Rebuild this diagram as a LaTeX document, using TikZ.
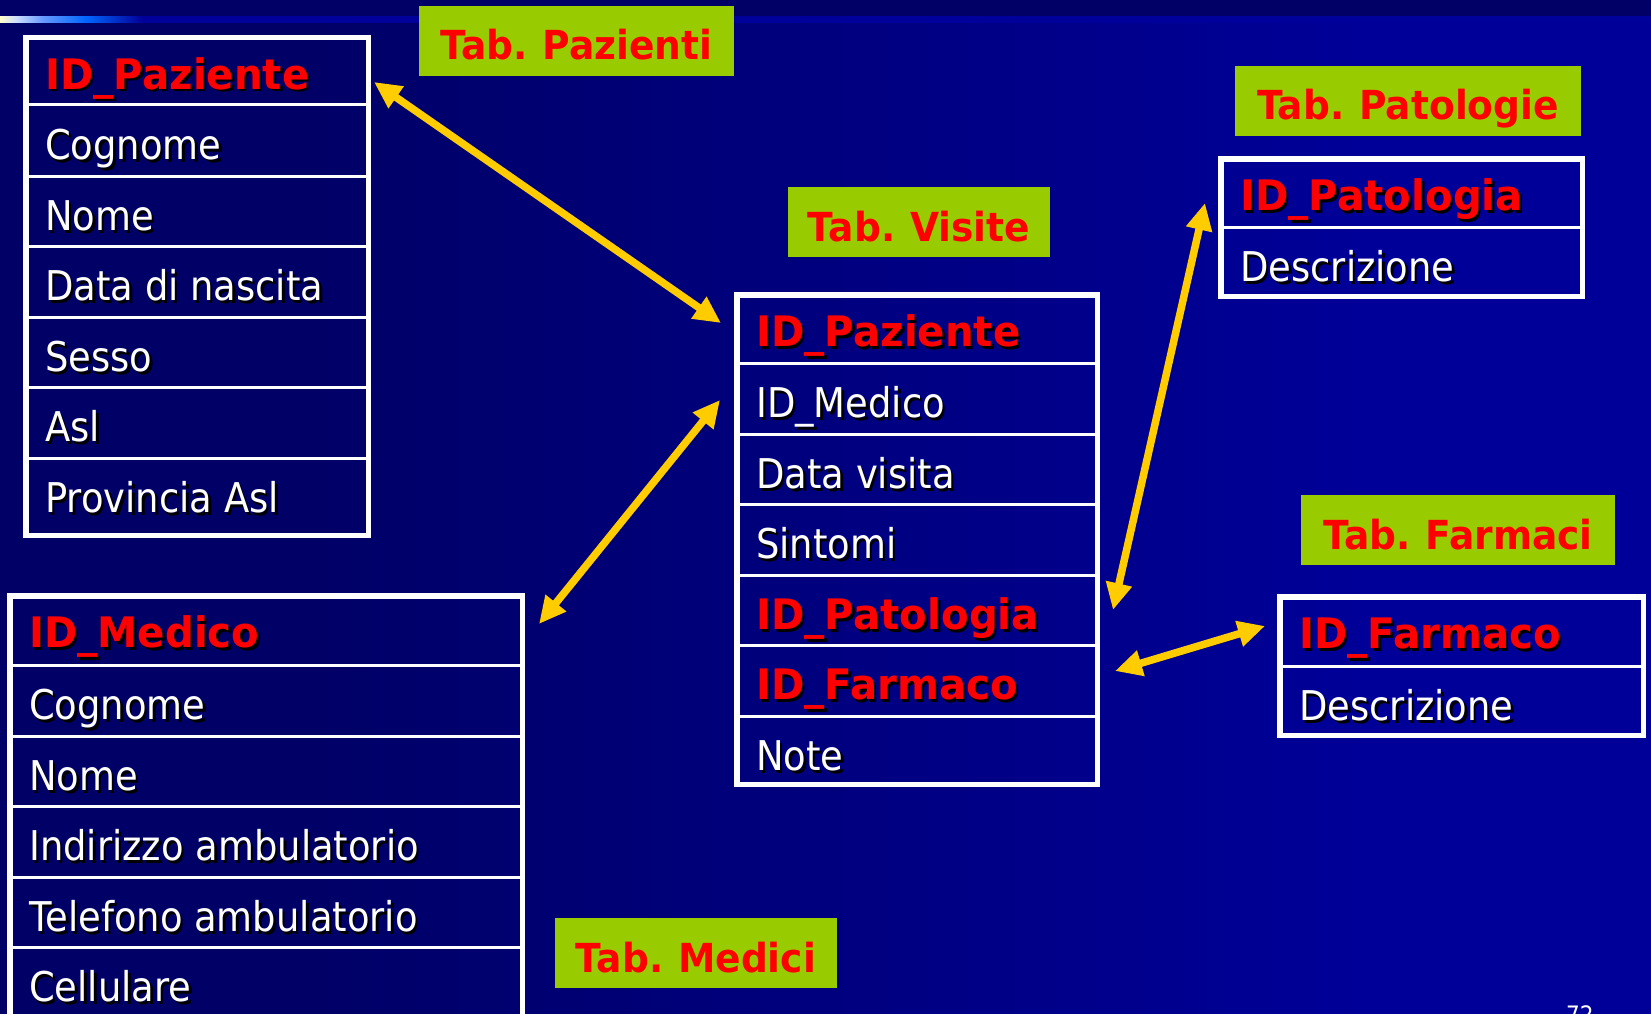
\documentclass[tikz,border=0pt]{standalone}
\usepackage{fontspec}
\newfontfamily\rfont[FakeStretch=0.90]{DejaVu Sans}
\newfontfamily\bfont[FakeStretch=0.96]{DejaVu Sans}
\newfontfamily\lfont[FakeStretch=0.94,WordSpace=0.8]{DejaVu Sans}
\usetikzlibrary{arrows.meta}
\definecolor{bgL}{HTML}{000066}
\definecolor{bgR}{HTML}{000099}
\definecolor{labgreen}{HTML}{99CC00}
\definecolor{gold}{HTML}{FFCC00}
\definecolor{keyred}{HTML}{FF0000}
\definecolor{stA}{HTML}{FFFFCC}
\definecolor{stB}{HTML}{CCDDFF}
\definecolor{stC}{HTML}{6699FF}
\definecolor{stD}{HTML}{0066FF}
\definecolor{stE}{HTML}{00009A}
\pgfdeclarehorizontalshading{bgshade}{100bp}{color(0bp)=(bgL); color(34bp)=(bgL); color(67bp)=(bgR); color(100bp)=(bgR)}
\pgfdeclarehorizontalshading{stripeshade}{100bp}{color(0bp)=(stA); color(25bp)=(stA); color(25.5bp)=(stB); color(26.3bp)=(stC); color(27.6bp)=(stD); color(29.3bp)=(stE); color(100bp)=(stE)}
\newcommand\fld[5]{%
  \node[field,#4,fshadow] (#1s) at (#2+2.5,#3+2.5) {#5};
  \node[field,#4] (#1) at (#2,#3) {#5};}
\begin{document}
\begin{tikzpicture}[x=1pt,y=-1pt,
  field/.style={anchor=base west, inner sep=0pt, text=white,
    font=\rfont\fontsize{41pt}{41pt}\selectfont},
  keyf/.style={text=keyred, font=\bfont\bfseries\fontsize{42pt}{42pt}\selectfont},
  fshadow/.style={text=black},
  tbl/.style={draw=white, line width=5.5pt, anchor=north west, inner sep=0pt, outer sep=0pt},
  sep/.style={draw=white, line width=3pt},
  lbl/.style={fill=labgreen, text=keyred, anchor=north west, inner sep=0pt, outer sep=0pt,
    text height=38pt, text depth=0pt, minimum height=70pt,
    font=\lfont\bfseries\fontsize{40pt}{40pt}\selectfont},
  conn/.style={draw=gold, line width=7.5pt,
    arrows={Triangle[length=27pt,width=25pt]-Triangle[length=27pt,width=25pt]}}
]
\useasboundingbox (0,0) rectangle (1651,1014);
\clip (0,0) rectangle (1651,1014);
% background
\fill[bgL] (0,0) rectangle (1651,1014);
\shade[shading=bgshade] (0,23) rectangle (1651,1014);
\shade[shading=stripeshade] (0,17) rectangle (1651,23);

% ---------- Tab. Pazienti ----------
\node[lbl, minimum width=315pt] (lpz) at (419,6) {Tab. Pazienti};
\foreach \yy in {105,176,246,317,387,458} \draw[sep] (25,\yy) -- (369,\yy);
\node[tbl, minimum width=342.5pt, minimum height=497.5pt] (pz) at (25.75,37.75) {};
\fld{pz1}{45}{89.5}{keyf}{ID\_Paziente}
\fld{pz2}{45}{159.5}{}{Cognome}
\fld{pz3}{45}{230.5}{}{Nome}
\fld{pz4}{45}{300.5}{}{Data di nascita}
\fld{pz5}{45}{371.5}{}{Sesso}
\fld{pz6}{45}{441.5}{}{Asl}
\fld{pz7}{45}{512.5}{}{Provincia Asl}

% ---------- Tab. Visite ----------
\node[lbl, minimum width=262pt] (lvs) at (788,187) {Tab. Visite};
\foreach \yy in {363,434,504,575,645,716} \draw[sep] (736,\yy) -- (1098,\yy);
\node[tbl, minimum width=360.5pt, minimum height=489.5pt] (vs) at (736.75,294.75) {};
\fld{vs1}{756}{346.5}{keyf}{ID\_Paziente}
\fld{vs2}{756}{417.5}{}{ID\_Medico}
\fld{vs3}{756}{488.5}{}{Data visita}
\fld{vs4}{756}{558.5}{}{Sintomi}
\fld{vs5}{756}{629.5}{keyf}{ID\_Patologia}
\fld{vs6}{756}{699.5}{keyf}{ID\_Farmaco}
\fld{vs7}{756}{770.5}{}{Note}

% ---------- Tab. Patologie ----------
\node[lbl, minimum width=346pt] (lpt) at (1235,66) {Tab. Patologie};
\draw[sep] (1220,227) -- (1583,227);
\node[tbl, minimum width=361.5pt, minimum height=137.5pt] (pt) at (1220.75,158.75) {};
\fld{pt1}{1240}{210.5}{keyf}{ID\_Patologia}
\fld{pt2}{1240}{281.5}{}{Descrizione}

% ---------- Tab. Farmaci ----------
\node[lbl, minimum width=314pt] (lfm) at (1301,495) {Tab. Farmaci};
\draw[sep] (1279,666) -- (1644,666);
\node[tbl, minimum width=363.5pt, minimum height=138.5pt] (fm) at (1279.75,596.75) {};
\fld{fm1}{1299}{648.5}{keyf}{ID\_Farmaco}
\fld{fm2}{1299}{720.5}{}{Descrizione}

% ---------- Tab. Medici ----------
\node[lbl, minimum width=282pt] (lmd) at (555,918) {Tab. Medici};
\foreach \yy in {665,736,806,877,947,1018} \draw[sep] (9,\yy) -- (523,\yy);
\node[tbl, minimum width=512.5pt, minimum height=500pt] (md) at (9.75,595.75) {};
\fld{md1}{29}{647.5}{keyf}{ID\_Medico}
\fld{md2}{29}{719.5}{}{Cognome}
\fld{md3}{29}{790.5}{}{Nome}
\fld{md4}{29}{860.5}{}{Indirizzo ambulatorio}
\fld{md5}{29}{931.5}{}{Telefono ambulatorio}
\fld{md6}{29}{1001.5}{}{Cellulare}

% ---------- connectors ----------
\coordinate (pzA) at (374,82);
\coordinate (vsA) at (721,323);
\coordinate (mdA) at (539,624);
\coordinate (vsB) at (720,400);
\coordinate (vsC) at (1113,610);
\coordinate (ptA) at (1205,203);
\coordinate (vsD) at (1115,671);
\coordinate (fmA) at (1265,626);
\draw[conn] (pzA) -- (vsA);
\draw[conn] (mdA) -- (vsB);
\draw[conn] (vsC) -- (ptA);
\draw[conn] (vsD) -- (fmA);

% page number
\node[anchor=base west, inner sep=0pt, text=white,
  font=\rfont\fontsize{24pt}{24pt}\selectfont] (pg) at (1566,1023) {72};
\end{tikzpicture}
\end{document}
